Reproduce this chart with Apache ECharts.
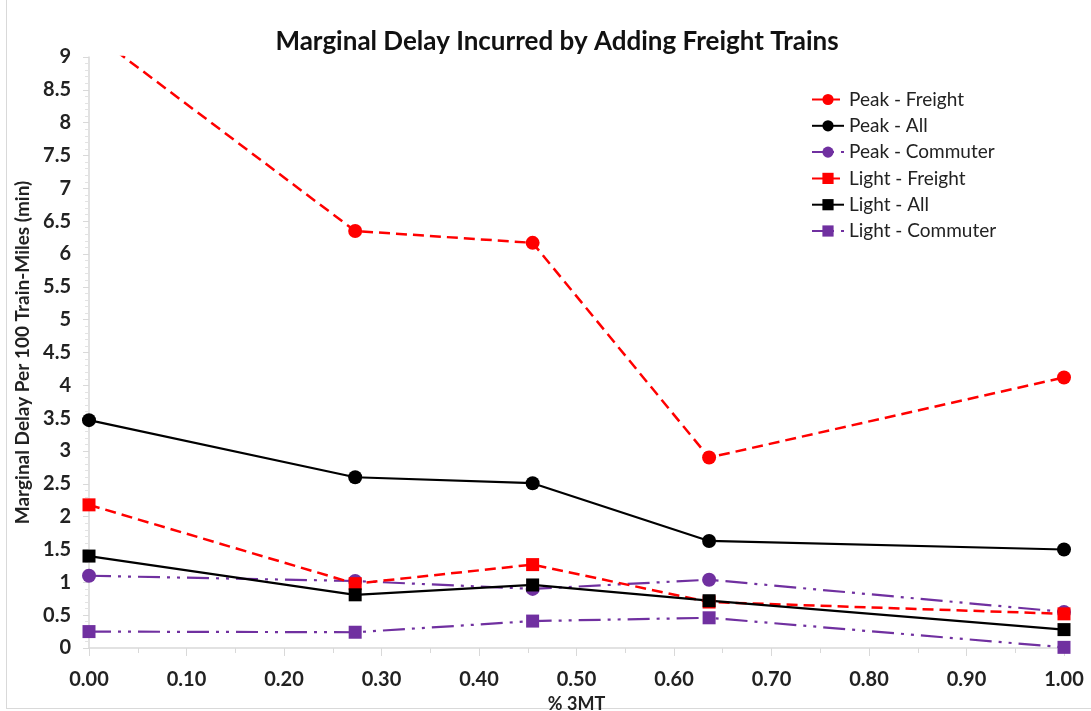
<!DOCTYPE html>
<html>
<head>
<meta charset="utf-8">
<script src="https://cdn.jsdelivr.net/npm/echarts@6/dist/echarts.min.js"></script>
<style>
  html, body { margin: 0; padding: 0; background: #fff; }
  #frame { position: absolute; left: 6px; top: 0; width: 1085px; height: 709px; border-left: 1px solid #d9d9d9; border-bottom: 1px solid #d9d9d9; box-sizing: border-box; }
  #chart { position: absolute; left: 6px; top: 0; width: 1085px; height: 711px; }
</style>
</head>
<body>
<div id="frame"></div>
<div id="chart"></div>
<script>
// Share of 3MT traffic at each scenario
const share3MT = [0, 0.273, 0.455, 0.636, 1.0];

// Marginal delay per 100 train-miles (min)
const peakFreight   = [9.4, 6.35, 6.17, 2.9, 4.12];
const peakAll       = [3.47, 2.6, 2.51, 1.63, 1.5];
const peakCommuter  = [1.1, 1.02, 0.9, 1.04, 0.55];
const lightFreight  = [2.18, 0.98, 1.27, 0.7, 0.52];
const lightAll      = [1.4, 0.81, 0.96, 0.72, 0.28];
const lightCommuter = [0.25, 0.24, 0.41, 0.46, 0.01];

const RED = '#ff0000', BLACK = '#000000', PURPLE = '#7030a0';
const FONT = 'Lato, "Open Sans", sans-serif';

function pairs(vals) { return share3MT.map((x, i) => [x, vals[i]]); }

function line(name, vals, color, symbol, dash, width) {
  return {
    name, type: 'line', data: pairs(vals), clip: true,
    symbol, symbolSize: symbol === 'circle' ? 14 : 13,
    itemStyle: { color },
    lineStyle: { color, width, type: dash, cap: 'butt' },
    z: 2
  };
}

const DASH = [11, 6];
const DASHDOT = [22, 7, 3, 7, 3, 7];

const chart = echarts.init(document.getElementById('chart'));
chart.setOption({
  animation: false,
  title: {
    text: 'Marginal Delay Incurred by Adding Freight Trains',
    left: 546, top: 24, textAlign: 'center',
    textStyle: { fontFamily: FONT, fontSize: 26, fontWeight: 'bold', color: '#111' }
  },
  legend: {
    orient: 'vertical', left: 800, top: 85,
    itemWidth: 32, itemHeight: 14, itemGap: 7.3,
    textStyle: { fontFamily: FONT, fontSize: 19, lineHeight: 16, color: '#222' },
    data: ['Peak - Freight', 'Peak - All', 'Peak - Commuter', 'Light - Freight', 'Light - All', 'Light - Commuter']
  },
  grid: { left: 83, right: 27, top: 57, bottom: 63, outerBoundsMode: 'none' },
  xAxis: {
    type: 'value', min: 0, max: 1, interval: 0.1,
    name: '% 3MT', nameLocation: 'middle', nameGap: 45,
    nameTextStyle: { fontFamily: FONT, fontSize: 18, fontWeight: 'bold', color: '#222' },
    axisLine: { show: true, onZero: false, lineStyle: { color: '#d9d9d9', width: 1.5 } },
    axisTick: { show: true, length: 8, lineStyle: { color: '#d9d9d9' } },
    minorTick: { show: true, splitNumber: 2, length: 5, lineStyle: { color: '#d9d9d9' } },
    splitLine: { show: false },
    axisLabel: { fontFamily: FONT, fontSize: 20, fontWeight: 'bold', color: '#222', margin: 22,
      formatter: v => v.toFixed(2) }
  },
  yAxis: {
    type: 'value', min: 0, max: 9, interval: 0.5,
    name: 'Marginal Delay Per 100 Train-Miles (min)', nameLocation: 'middle', nameGap: 55,
    nameTextStyle: { fontFamily: FONT, fontSize: 19, fontWeight: 'bold', color: '#222' },
    axisLine: { show: true, lineStyle: { color: '#d9d9d9', width: 1.5 } },
    axisTick: { show: true, length: 6, lineStyle: { color: '#d9d9d9' } },
    minorTick: { show: true, splitNumber: 5, length: 4, lineStyle: { color: '#e3e3e3' } },
    splitLine: { show: false },
    axisLabel: { fontFamily: FONT, fontSize: 20, fontWeight: 'bold', color: '#222', margin: 18 }
  },
  series: [
    line('Peak - Freight', peakFreight, RED, 'circle', DASH, 2.5),
    line('Peak - All', peakAll, BLACK, 'circle', 'solid', 2.2),
    line('Peak - Commuter', peakCommuter, PURPLE, 'circle', DASHDOT, 2.2),
    line('Light - Freight', lightFreight, RED, 'rect', DASH, 2.5),
    line('Light - All', lightAll, BLACK, 'rect', 'solid', 2.2),
    line('Light - Commuter', lightCommuter, PURPLE, 'rect', DASHDOT, 2.2)
  ]
});
</script>
</body>
</html>
